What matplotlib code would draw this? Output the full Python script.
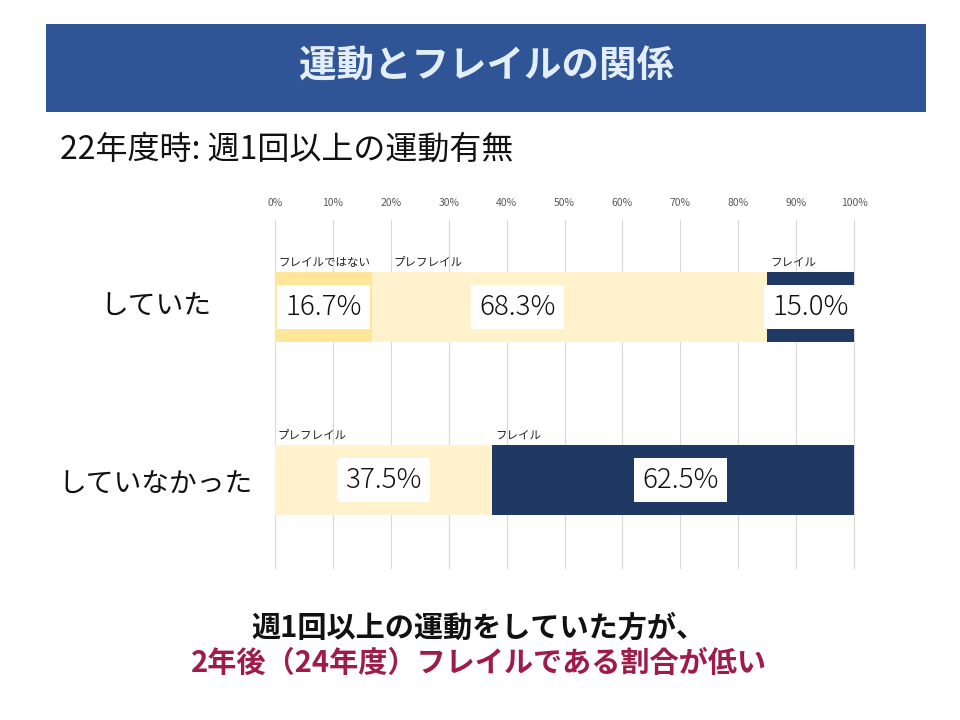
import numpy as np
import matplotlib
matplotlib.use('Agg')
import matplotlib.pyplot as plt
from matplotlib.patches import Rectangle

plt.rcParams['font.family'] = ['Noto Sans CJK JP', 'DejaVu Sans']

# data
categories = ['していた', 'していなかった']
segments = ['フレイルではない', 'プレフレイル', 'フレイル']
values = np.array([
    [16.7, 68.3, 15.0],
    [0.0, 37.5, 62.5],
])
colors = ['#FFE699', '#FFF2CC', '#203864']
xticks = np.arange(0, 101, 10)
xtick_labels = [f'{t}%' for t in xticks]

title = '運動とフレイルの関係'
subtitle = '22年度時: 週1回以上の運動有無'
note_line1 = '週1回以上の運動をしていた方が、'
note_line2 = '2年後（24年度）フレイルである割合が低い'

W, H = 960, 720
fig = plt.figure(figsize=(W / 100, H / 100), dpi=100)

# title banner
fig.patches.append(Rectangle((46 / W, 1 - 112 / H), 880 / W, 88 / H,
                             transform=fig.transFigure, facecolor='#2F5597',
                             edgecolor='none', zorder=0))
fig.text(486 / W, 1 - 66 / H, title, ha='center', va='center',
         fontsize=27, fontweight='bold', color='#E4EEF8')
fig.text(60 / W, 1 - 150 / H, subtitle, ha='left', va='center',
         fontsize=23, color='#111111')

# chart area
ax = fig.add_axes([275 / W, 1 - 568 / H, 579 / W, 348 / H])
bar_h = 0.405
ypos = np.arange(len(categories))
ax.set_xlim(0, 100)
ax.set_ylim(1.509, -0.503)

# labels that were dragged off the segment centre in the original
label_shift = {(0, 1): -9.0, (1, 2): 1.3}

for i, cat in enumerate(categories):
    left = 0.0
    for j, seg in enumerate(segments):
        v = values[i, j]
        if v <= 0:
            continue
        ax.barh(ypos[i], v, left=left, height=bar_h, color=colors[j],
                edgecolor='none', zorder=2)
        # percentage label in a white box
        lx = left + v / 2 + label_shift.get((i, j), 0.0)
        ax.text(lx, ypos[i], f'{v:.1f}%', ha='center', va='center',
                fontsize=20, fontweight='light', color='#111111', zorder=4,
                bbox=dict(boxstyle='square,pad=0.3', facecolor='white',
                          edgecolor='none'))
        # segment name above the bar
        nudge = 3.8 if (j == 1 and left > 5) else 0.5
        ax.text(left + nudge, ypos[i] - bar_h / 2 - 0.02, seg,
                ha='left', va='bottom', fontsize=8.3, color='#222222', zorder=4)
        left += v

ax.set_xticks(xticks)
ax.set_xticklabels(xtick_labels)
ax.xaxis.tick_top()
ax.tick_params(axis='x', length=0, pad=9, labelsize=7.5, labelcolor='#595959')
ax.set_yticks([])
for t in xticks:
    ax.axvline(t, color='#D9D9D9', linewidth=0.8, zorder=0, clip_on=False)
for s in ax.spines.values():
    s.set_visible(False)

# category labels
cat_px = [307, 485]
for cat, py in zip(categories, cat_px):
    fig.text(156 / W, 1 - py / H, cat, ha='center', va='center',
             fontsize=20, color='#111111')

# conclusion
fig.text(478 / W, 1 - 628 / H, note_line1, ha='center', va='center',
         fontsize=21, fontweight='bold', color='#111111')
fig.text(479 / W, 1 - 663 / H, note_line2, ha='center', va='center',
         fontsize=21, fontweight='bold', color='#9E1B4A')

fig.savefig('out.png', dpi=100, facecolor='white')
